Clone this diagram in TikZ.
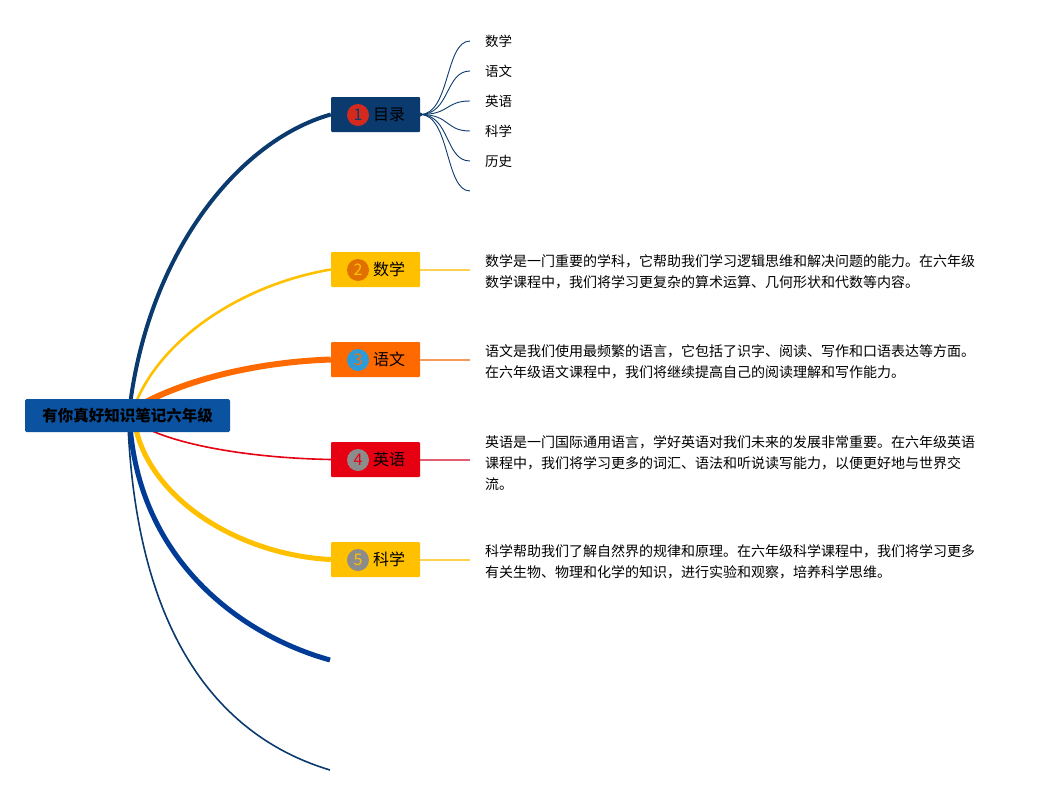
\documentclass[tikz,border=0pt]{standalone}
\usepackage{fontspec}
\setmainfont{Noto Sans CJK SC}
\usetikzlibrary{positioning}
\usetikzlibrary{backgrounds}

\definecolor{rootblue}{HTML}{0B52A0}
\definecolor{navy}{HTML}{0B3A6E}
\definecolor{gold}{HTML}{FFC000}
\definecolor{flame}{HTML}{FF6A00}
\definecolor{scarlet}{HTML}{E60012}
\definecolor{royal}{HTML}{003C96}
\definecolor{numred}{HTML}{D42A1E}
\definecolor{numorange}{HTML}{E07000}
\definecolor{numblue}{HTML}{2E9BD6}
\definecolor{numgray}{HTML}{8C8C8C}
\definecolor{palegold}{HTML}{FFD24D}
\definecolor{paleflame}{HTML}{F59A5A}
\definecolor{palescarlet}{HTML}{E35D70}

\begin{document}
\begin{tikzpicture}[x=1pt,y=1pt,
    root node/.style={rectangle,rounded corners=1.5pt,fill=rootblue,minimum width=205pt,
                      minimum height=33pt,inner sep=0pt,font=\fontsize{15.5}{18}\selectfont\bfseries},
    topic node/.style={rectangle,rounded corners=1pt,minimum width=89pt,minimum height=35pt,
                       inner xsep=15pt,inner ysep=0pt,text width=59pt,align=right,
                       font=\fontsize{16}{19}\selectfont},
    num node/.style={circle,minimum size=22pt,inner sep=0pt,font=\fontsize{16}{19}\selectfont},
    sub node/.style={inner sep=0pt,anchor=west,font=\fontsize{13.5}{16}\selectfont},
    note node/.style={inner sep=0pt,align=left,font=\fontsize{14}{20.8}\selectfont},
    link line/.style={line width=2pt}]

  \useasboundingbox (0,0) rectangle (1045,-795);

  \node[root node] (root) at (127.5,-415.5) {有你真好知识笔记六年级};

  \node[topic node,fill=navy]    (b1) at (375.5,-114.5) {目录};
  \node[topic node,fill=gold]    (b2) at (375.5,-269.5) {数学};
  \node[topic node,fill=flame]   (b3) at (375.5,-359.5) {语文};
  \node[topic node,fill=scarlet] (b4) at (375.5,-459.5) {英语};
  \node[topic node,fill=gold]    (b5) at (375.5,-559.5) {科学};

  \node[num node,fill=numred,text=navy]       (c1) at (358,-115) {1};
  \node[num node,fill=numorange,text=gold]    (c2) at (358,-270) {2};
  \node[num node,fill=numblue,text=flame]     (c3) at (358,-360) {3};
  \node[num node,fill=numgray,text=scarlet]   (c4) at (358,-460) {4};
  \node[num node,fill=numgray,text=gold]      (c5) at (358,-560) {5};

  \coordinate (e6) at (330,-660);
  \coordinate (e7) at (330,-770);

  % contents list
  \node[sub node] (s1) at (485,-41) {数学};
  \node[sub node] (s2) at (485,-71) {语文};
  \node[sub node] (s3) at (485,-101) {英语};
  \node[sub node] (s4) at (485,-131) {科学};
  \node[sub node] (s5) at (485,-161) {历史};
  \coordinate (s6) at (470,-191);

  % notes
  \node[note node,anchor=west] (n2) at (485,-272)
    {数学是一门重要的学科，它帮助我们学习逻辑思维和解决问题的能力。在六年级\\
     数学课程中，我们将学习更复杂的算术运算、几何形状和代数等内容。};
  \node[note node,anchor=west] (n3) at (485,-362)
    {语文是我们使用最频繁的语言，它包括了识字、阅读、写作和口语表达等方面。\\
     在六年级语文课程中，我们将继续提高自己的阅读理解和写作能力。};
  \node[note node,anchor=west] (n4) at (485,-463)
    {英语是一门国际通用语言，学好英语对我们未来的发展非常重要。在六年级英语\\
     课程中，我们将学习更多的词汇、语法和听说读写能力，以便更好地与世界交\\
     流。};
  \node[note node,anchor=west] (n5) at (485,-562)
    {科学帮助我们了解自然界的规律和原理。在六年级科学课程中，我们将学习更多\\
     有关生物、物理和化学的知识，进行实验和观察，培养科学思维。};

  \begin{scope}[on background layer]
    \draw[navy,line width=4pt]    (130,-405) .. controls (150,-250) and (240,-140) .. (b1.west);
    \draw[gold,line width=2.6pt]  (135,-405) .. controls (160,-340) and (240,-285) .. (b2.west);
    \draw[flame,line width=6pt]   (140,-405) .. controls (190,-378) and (260,-362) .. (b3.west);
    \draw[scarlet,line width=1.6pt] (140,-425) .. controls (175,-445) and (250,-458) .. (b4.west);
    \draw[gold,line width=5pt]    (135,-425) .. controls (150,-500) and (240,-555) .. (b5.west);
    \draw[royal,line width=5pt]   (130,-425) .. controls (140,-560) and (240,-635) .. (e6);
    \draw[navy,line width=1.6pt]  (128,-425) .. controls (138,-650) and (230,-740) .. (e7);
  \end{scope}

  \foreach \s in {s1,s2,s3,s4,s5}
    \draw[navy,line width=0.9pt] (b1.east) .. controls +(30,0) and +(-25,0) .. ([xshift=-15pt]\s.west);
  \draw[navy,line width=0.9pt] (b1.east) .. controls +(30,0) and +(-25,0) .. (s6);
  \fill[navy] (b1.east) circle (2pt);

  \draw[draw=palegold,link line]    (b2.east) -- ([xshift=-15pt]n2.west |- b2.east);
  \draw[draw=paleflame,link line]   (b3.east) -- ([xshift=-15pt]n3.west |- b3.east);
  \draw[draw=palescarlet,link line] (b4.east) -- ([xshift=-15pt]n4.west |- b4.east);
  \draw[draw=palegold,link line]    (b5.east) -- ([xshift=-15pt]n5.west |- b5.east);
\end{tikzpicture}
\end{document}
